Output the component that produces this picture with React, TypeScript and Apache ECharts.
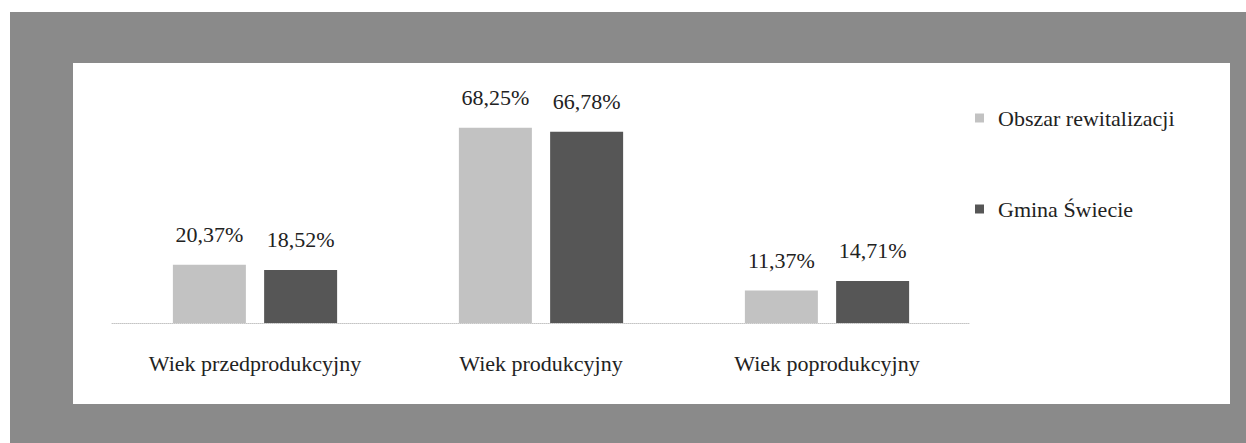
import React, { useEffect, useRef } from "react";
import * as echarts from "echarts";

const categories = ["Wiek przedprodukcyjny", "Wiek produkcyjny", "Wiek poprodukcyjny"];
const seriesNames = ["Obszar rewitalizacji", "Gmina Świecie"];
const obszarValues = [20.37, 68.25, 11.37];
const gminaValues = [18.52, 66.78, 14.71];

const FONT = "'Liberation Serif', 'DejaVu Serif', serif";
const LIGHT = "#c2c2c2";
const DARK = "#565656";

export default function App() {
  const ref = useRef<HTMLDivElement>(null);
  useEffect(() => {
    if (!ref.current) return;
    const chart = echarts.init(ref.current, undefined, { renderer: "svg" });
    const fmt = (p: any) => p.value.toFixed(2).replace(".", ",") + "%";
    chart.setOption({
      animation: false,
      backgroundColor: "#ffffff",
      graphic: [
        { type: "rect", shape: { x: 10, y: 12, width: 1236, height: 431 }, style: { fill: "#8a8a8a" }, z: -10 },
        { type: "rect", shape: { x: 73, y: 63, width: 1157, height: 341 }, style: { fill: "#ffffff" }, z: -9 },
      ],
      grid: { left: 112, right: 276, top: 94, bottom: 120 },
      legend: {
        orient: "vertical",
        left: 970,
        top: 102,
        itemWidth: 9,
        itemHeight: 9,
        itemGap: 69,
        icon: "rect",
        textStyle: { fontFamily: FONT, fontSize: 22, color: "#222", padding: [0, 0, 0, 9] },
        data: seriesNames,
      },
      xAxis: {
        type: "category",
        data: categories,
        axisTick: { show: false },
        axisLine: { lineStyle: { color: "#c4c4c4", type: "dotted", width: 1 } },
        axisLabel: { fontFamily: FONT, fontSize: 22, color: "#222", margin: 29 },
      },
      yAxis: { type: "value", min: 0, max: 80, show: false, splitLine: { show: false } },
      series: [
        {
          name: seriesNames[0],
          type: "bar",
          data: obszarValues,
          barWidth: 73,
          barGap: "25%",
          itemStyle: { color: LIGHT },
          label: { show: true, position: "top", distance: 19, formatter: fmt, fontFamily: FONT, fontSize: 22, color: "#222" },
        },
        {
          name: seriesNames[1],
          type: "bar",
          data: gminaValues,
          barWidth: 73,
          barGap: "25%",
          itemStyle: { color: DARK },
          label: { show: true, position: "top", distance: 19, formatter: fmt, fontFamily: FONT, fontSize: 22, color: "#222" },
        },
      ],
    });
    return () => chart.dispose();
  }, []);
  return <div ref={ref} style={{ position: "absolute", left: 0, top: 0, width: 1246, height: 443 }} />;
}
